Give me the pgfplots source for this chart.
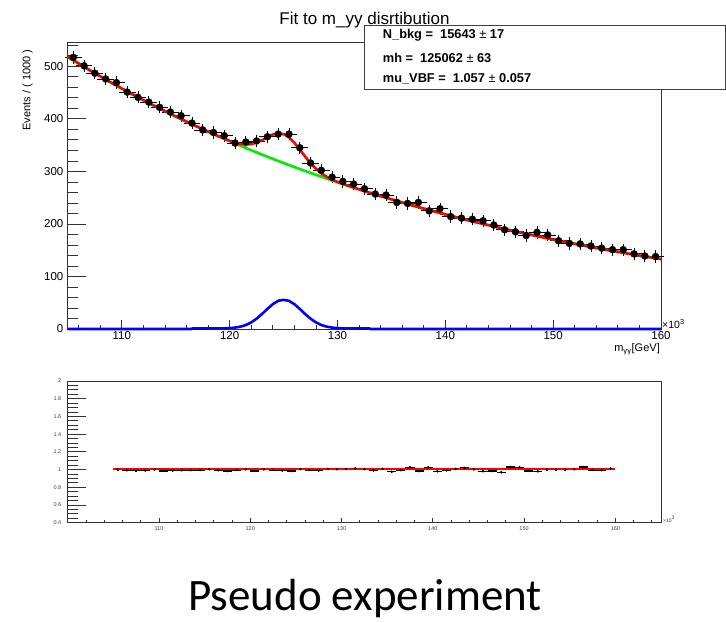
\documentclass[border=0pt]{standalone}
\usepackage{pgfplots}
\usepackage{pgfplotstable}
\pgfplotsset{compat=1.18}
\usepackage{fontspec}
\setmainfont{Liberation Sans}
\newfontfamily\carlito{Carlito}

\pgfplotstableread{
x y ex ey
105.5 517 0.5 6
106.5 501 0.5 6
107.5 487 0.5 6
108.5 476 0.5 6
109.5 469 0.5 6
110.5 451 0.5 6
111.5 441 0.5 6
112.5 432 0.5 6
113.5 422 0.5 6
114.5 413 0.5 6
115.5 406 0.5 6
116.5 392 0.5 6
117.5 379 0.5 6
118.5 374 0.5 6
119.5 368 0.5 6
120.5 354 0.5 6
121.5 356 0.5 6
122.5 358 0.5 6
123.5 366 0.5 6
124.5 371 0.5 6
125.5 371 0.5 6
126.5 345 0.5 6
127.5 316 0.5 6
128.5 302 0.5 6
129.5 289 0.5 6
130.5 281 0.5 6
131.5 276 0.5 6
132.5 267 0.5 6
133.5 257 0.5 6
134.5 255 0.5 6
135.5 241 0.5 6
136.5 239 0.5 6
137.5 241 0.5 6
138.5 225 0.5 6
139.5 229 0.5 6
140.5 214 0.5 6
141.5 211 0.5 6
142.5 209 0.5 6
143.5 206 0.5 6
144.5 198 0.5 6
145.5 189 0.5 6
146.5 185 0.5 6
147.5 178 0.5 6
148.5 184 0.5 6
149.5 179 0.5 6
150.5 168 0.5 6
151.5 163 0.5 6
152.5 162 0.5 6
153.5 158 0.5 6
154.5 154 0.5 6
155.5 151 0.5 6
156.5 151 0.5 6
157.5 143 0.5 6
158.5 139 0.5 6
159.5 138 0.5 6
}\topdata

\pgfplotstableread{
x r ex ey
105.5 0.999 0.5 0.01
106.5 0.992 0.5 0.01
107.5 0.988 0.5 0.01
108.5 0.990 0.5 0.01
109.5 1.000 0.5 0.01
110.5 0.985 0.5 0.01
111.5 0.988 0.5 0.01
112.5 0.992 0.5 0.01
113.5 0.993 0.5 0.01
114.5 0.996 0.5 0.01
115.5 1.004 0.5 0.01
116.5 0.993 0.5 0.01
117.5 0.984 0.5 0.01
118.5 0.996 0.5 0.01
119.5 1.004 0.5 0.01
120.5 0.985 0.5 0.01
121.5 1.002 0.5 0.01
122.5 0.997 0.5 0.01
123.5 0.990 0.5 0.01
124.5 0.984 0.5 0.01
125.5 1.005 0.5 0.01
126.5 0.997 0.5 0.01
127.5 0.989 0.5 0.01
128.5 1.007 0.5 0.01
129.5 1.004 0.5 0.01
130.5 1.006 0.5 0.01
131.5 1.013 0.5 0.01
132.5 1.005 0.5 0.01
133.5 0.991 0.5 0.01
134.5 1.008 0.5 0.01
135.5 0.976 0.5 0.01
136.5 0.993 0.5 0.01
137.5 1.026 0.5 0.01
138.5 0.982 0.5 0.01
139.5 1.025 0.5 0.01
140.5 0.981 0.5 0.01
141.5 0.992 0.5 0.01
142.5 1.007 0.5 0.01
143.5 1.017 0.5 0.01
144.5 1.002 0.5 0.01
145.5 0.980 0.5 0.01
146.5 0.984 0.5 0.01
147.5 0.970 0.5 0.01
148.5 1.028 0.5 0.01
149.5 1.025 0.5 0.01
150.5 0.986 0.5 0.01
151.5 0.980 0.5 0.01
152.5 0.999 0.5 0.01
153.5 0.998 0.5 0.01
154.5 0.998 0.5 0.01
155.5 1.003 0.5 0.01
156.5 1.028 0.5 0.01
157.5 0.997 0.5 0.01
158.5 0.994 0.5 0.01
159.5 1.012 0.5 0.01
}\ratiodata

\pgfplotsset{
  rootax/.style={scale only axis, anchor=south west, tick align=inside, tick pos=left,
    /pgf/number format/assume math mode=true, clip=false,
    axis line style={line width=0.9pt, black!80},
    tick style={line width=0.8pt, black!80}},
}

\begin{document}
\begin{tikzpicture}[x=1pt,y=1pt]
\path[use as bounding box] (0,0) rectangle (726,-622);

% ---------- top panel: y ticks ----------
\begin{axis}[rootax, at={(67.9pt,-329pt)}, width=593.1pt, height=286.3pt,
  xmin=105, xmax=160, ymin=0, ymax=545,
  axis line style={draw=none},
  xtick=\empty,
  ytick={0,100,200,300,400,500},
  minor ytick={20,40,...,540},
  major tick length=18pt, minor tick length=10pt,
  yticklabel style={font=\fontsize{11.5}{12}\selectfont, xshift=-1pt}]
\end{axis}

% ---------- top panel: data, x ticks ----------
\begin{axis}[rootax, at={(67.9pt,-329pt)}, width=593.1pt, height=286.3pt,
  xmin=105, xmax=160, ymin=0, ymax=545,
  ytick=\empty,
  xtick={110,120,130,140,150,160},
  minor xtick={106,108,...,158},
  major tick length=9pt, minor tick length=4.5pt,
  xticklabel style={font=\fontsize{11.5}{12}\selectfont, yshift=1pt}]

\addplot[only marks, mark=*, mark size=3.5pt, black,
  error bars/.cd, x dir=both, x explicit, y dir=both, y explicit,
  error bar style={line width=0.8pt, black},
  error mark options={line width=0.8pt, mark size=3pt, black}]
  table[x=x, y=y, x error=ex, y error=ey] {\topdata};

\addplot[line width=2.6pt, color={rgb,255:red,0;green,235;blue,0}] coordinates {
(105,518.0)(106,505.4)(107,493.0)(108,481.0)(109,469.3)(110,457.8)(111,446.6)
(112,435.7)(113,425.1)(114,414.7)(115,404.6)(116,394.7)(117,385.1)(118,375.7)
(119,366.5)(120,357.6)(121,348.9)(122,340.4)(123,332.0)(124,323.9)(125,316.0)
(126,308.3)(127,300.8)(128,293.5)(129,286.3)(130,279.3)(131,272.5)(132,265.9)
(133,259.4)(134,253.0)(135,246.9)(136,240.9)(137,235.0)(138,229.3)(139,223.7)
(140,218.2)(141,212.9)(142,207.7)(143,202.6)(144,197.7)(145,192.9)(146,188.2)
(147,183.6)(148,179.1)(149,174.7)(150,170.5)(151,166.3)(152,162.2)(153,158.3)
(154,154.4)(155,150.6)(156,147.0)(157,143.4)(158,139.9)(159,136.5)(160,133.1)};

\addplot[line width=2.6pt, red, line join=round] coordinates {
(105,518.0)(106,505.4)(107,493.0)(108,481.0)(109,469.3)(110,457.8)(111,446.6)
(112,435.7)(113,425.1)(114,414.7)(115,404.6)(116,394.8)(117,385.1)(118,375.7)
(119,366.6)(119.5,362.3)(120,358.3)(120.5,354.9)(121,352.4)(121.5,351.2)
(122,352.0)(122.5,354.9)(123,359.5)(123.5,365.2)(124,370.2)(124.5,372.6)
(125,371.0)(125.5,364.8)(126,354.6)(126.5,341.8)(127,328.3)(127.5,315.8)
(128,305.1)(128.5,296.5)(129,289.8)(129.5,284.5)(130,280.0)(131,272.6)
(132,265.9)(133,259.4)(134,253.0)(135,246.9)(136,240.9)(137,235.0)(138,229.3)
(139,223.7)(140,218.2)(141,212.9)(142,207.7)(143,202.6)(144,197.7)(145,192.9)
(146,188.2)(147,183.6)(148,179.1)(149,174.7)(150,170.5)(151,166.3)(152,162.2)
(153,158.3)(154,154.4)(155,150.6)(156,147.0)(157,143.4)(158,139.9)(159,136.5)
(160,133.1)};

\addplot[line width=2.6pt, blue, line join=round] coordinates {
(105,0)(116.5,0)(116.5,1)(119,1.1)(119.5,1.3)(120,1.7)(120.5,2.7)(121,4.5)
(121.5,7.6)(122,12.6)(122.5,19.7)(123,28.5)(123.5,38.3)(124,47.3)(124.5,53.7)
(125,55.5)(125.5,53.7)(126,47.3)(126.5,38.3)(127,28.5)(127.5,19.7)(128,12.6)
(128.5,7.6)(129,4.5)(129.5,2.7)(130,1.7)(130.5,1.3)(131,1.1)(133,1)(133,0)(160,0)};
\end{axis}

% ---------- bottom panel: y ticks ----------
\begin{axis}[rootax, at={(67.7pt,-522.7pt)}, width=593.3pt, height=141.7pt,
  xmin=100, xmax=165, ymin=0.4, ymax=2,
  axis line style={draw=none},
  xtick=\empty,
  ytick={0.4,0.6,0.8,1,1.2,1.4,1.6,1.8,2},
  yticklabels={0.4,0.6,0.8,1,1.2,1.4,1.6,1.8,2},
  minor ytick={0.45,0.5,0.55,0.65,0.7,0.75,0.85,0.9,0.95,1.05,1.1,1.15,1.25,1.3,1.35,1.45,1.5,1.55,1.65,1.7,1.75,1.85,1.9,1.95},
  major tick length=18pt, minor tick length=10pt,
  yticklabel style={font=\fontsize{5.5}{6}\selectfont, black!75, xshift=-3pt}]
\end{axis}

% ---------- bottom panel: ratio, x ticks ----------
\begin{axis}[rootax, at={(67.7pt,-522.7pt)}, width=593.3pt, height=141.7pt,
  xmin=100, xmax=165, ymin=0.4, ymax=2,
  ytick=\empty,
  xtick={110,120,130,140,150,160},
  minor xtick={102,104,...,164},
  major tick length=5pt, minor tick length=2.5pt,
  xticklabel style={font=\fontsize{5.5}{6}\selectfont, black!75}]
\addplot[only marks, mark=*, mark size=1.1pt, black,
  error bars/.cd, x dir=both, x explicit, y dir=both, y explicit,
  error bar style={line width=1.4pt, black},
  error mark=none]
  table[x=x, y=r, x error=ex, y error=ey] {\ratiodata};
\addplot[line width=2pt, red] coordinates {(105,1.005)(160,1.005)};
\end{axis}

% ---------- texts ----------
\node[anchor=base, font=\fontsize{17}{20}\selectfont] at (364.5,-24) {Fit to m\_yy disrtibution};
\draw[line width=0.8pt, black!75, fill=white] (364,-25) rectangle (725.4,-89);
\node[anchor=base west, font=\bfseries\fontsize{12.8}{14}\selectfont, inner sep=0pt] at (382.7,-38.7) {N\_bkg =\ \ 15643 {\mdseries ±} 17};
\node[anchor=base west, font=\bfseries\fontsize{12.8}{14}\selectfont, inner sep=0pt] at (382.7,-62) {mh =\ \ 125062 {\mdseries ±} 63};
\node[anchor=base west, font=\bfseries\fontsize{12.8}{14}\selectfont, inner sep=0pt] at (382.7,-82.3) {mu\_VBF =\ \ 1.057 {\mdseries ±} 0.057};

\node[rotate=90, font=\fontsize{11}{12}\selectfont] at (27.5,-90) {Events / ( 1000 )};
\node[anchor=base west, font=\fontsize{10.5}{12}\selectfont, inner sep=0pt] at (662,-328) {×10\textsuperscript{3}};
\node[anchor=base east, font=\fontsize{11}{12}\selectfont, inner sep=0pt] at (660,-351.5) {m\textsubscript{γγ}[GeV]};
\node[anchor=base west, font=\fontsize{5}{6}\selectfont, black!75, inner sep=0pt] at (663,-522) {×10\textsuperscript{3}};

\node[anchor=base, font=\carlito\fontsize{45}{50}\selectfont, inner sep=0pt] at (365,-610) {Pseudo experiment};
\end{tikzpicture}
\end{document}
